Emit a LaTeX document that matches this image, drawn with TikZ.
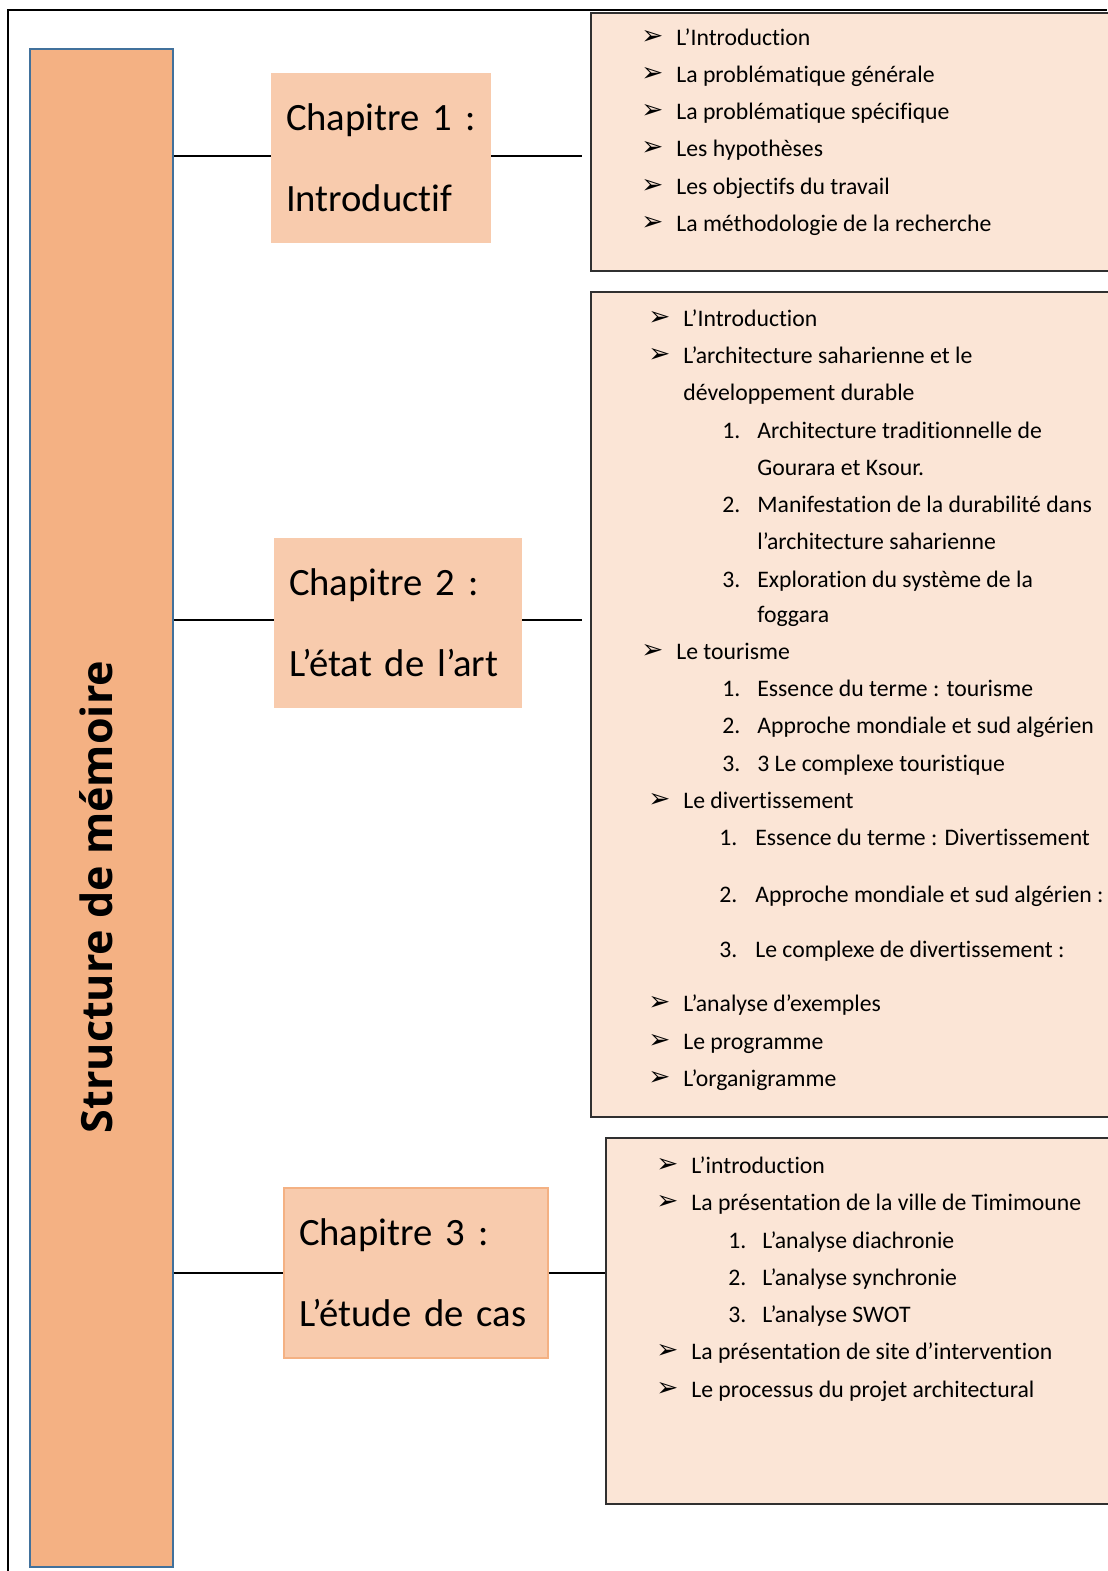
\documentclass[tikz,border=0pt]{standalone}
\usepackage{fontspec}
\setmainfont{Carlito}[Ligatures=NoCommon]
\newfontfamily\arrowfont{DejaVu Sans}
\newfontfamily\titlefont{Open Sans}
\definecolor{barfill}{HTML}{F4B183}
\definecolor{barline}{HTML}{41719C}
\definecolor{chapfill}{HTML}{F8CBAD}
\definecolor{listfill}{HTML}{FBE5D6}
\definecolor{listline}{HTML}{303030}
\begin{document}
\begin{tikzpicture}[x=0.02cm,y=-0.02cm,
  chap/.style={fill=chapfill,align=left,inner xsep=0.3cm,minimum height=3.4cm,
    font=\fontsize{22}{46}\selectfont},
  listbox/.style={draw=listline,fill=listfill,line width=1.1pt,anchor=north west},
  item/.style={anchor=mid west,inner sep=0pt,yshift=-0.08cm,font=\fontsize{13.5}{16}\selectfont},
  bul/.style={anchor=mid west,inner sep=0pt,yshift=-0.06cm,font=\arrowfont\bfseries\fontsize{15}{16}\selectfont},
  link/.style={draw,line width=0.9pt}]
\useasboundingbox (0,0) rectangle (1107,1571);
\draw[line width=0.6pt] (8,1571) -- (8,10) -- (1107,10);
% main bar
\node[draw=barline,fill=barfill,line width=0.8pt,minimum width=2.86cm,minimum height=30.36cm] (bar) at (101.5,808) {};
\node[rotate=90,font=\titlefont\bfseries\fontsize{24.5}{28}\selectfont] (title) at (96,897) {Structure de mémoire};
% chapters
\node[chap,text width=3.8cm] (ch1) at (381,158) {Chapitre 1 :\\Introductif};
\node[chap,text width=4.36cm] (ch2) at (398,623) {Chapitre 2 :\\L’état de l’art};
\node[chap,text width=4.68cm,draw=barfill,line width=0.8pt] (ch3) at (416,1273) {Chapitre 3 :\\L’étude de cas};
% content boxes
\node[listbox,minimum width=10.8cm,minimum height=5.16cm] (box1) at (590,12) {};
\node[listbox,minimum width=10.8cm,minimum height=16.5cm] (box2) at (590,291) {};
\node[listbox,minimum width=10.5cm,minimum height=7.32cm] (box3) at (605,1137) {};
\coordinate (e1) at (582,156);
\coordinate (e2) at (582,620);
\path[link] (bar.east |- e1) -- (ch1.west |- e1);
\path[link] (ch1.east |- e1) -- (e1);
\path[link] (bar.east |- e2) -- (ch2.west |- e2);
\path[link] (ch2.east |- e2) -- (e2);
\path[link] (bar.east |- 0,1273) -- (ch3.west |- 0,1273);
\path[link] (ch3.east |- 0,1273) -- (box3.west |- 0,1273);
% chapitre 1
\foreach \i/\y/\txt in {1/37/L’Introduction, 2/74/La problématique générale,
    3/111/La problématique spécifique, 4/148/Les hypothèses,
    5/186/Les objectifs du travail, 6/223/La méthodologie de la recherche} {
  \node[bul] (a1-\i) at (641,\y) {➢};
  \node[item] (t1-\i) at (676,\y) {\txt};
}
% chapitre 2
\foreach \i/\y/\txt in {1/318/L’Introduction, 2/355/L’architecture saharienne et le,
    4/800/Le divertissement, 5/1003/L’analyse d’exemples,
    6/1041/Le programme, 7/1078/L’organigramme} {
  \node[bul] (a2-\i) at (648,\y) {➢};
  \node[item] (t2-\i) at (683,\y) {\txt};
}
\node[bul] (a2-3) at (641,651) {➢};
\node[item] (t2-3) at (676,651) {Le tourisme};
\node[item] (t2-2b) at (683,392) {développement durable};
\foreach \i/\y/\n/\txt in {1/430/1./Architecture traditionnelle de, 2/467//Gourara et Ksour.,
    3/504/2./Manifestation de la durabilité dans, 4/541//l’architecture saharienne,
    5/579/3./Exploration du système de la, 6/614//foggara,
    7/688/1./Essence du terme : tourisme, 8/725/2./Approche mondiale et sud algérien,
    9/763/3./3 Le complexe touristique} {
  \node[item] (n2-\i) at (722,\y) {\n};
  \node[item] (s2-\i) at (757,\y) {\txt};
}
\foreach \i/\y/\n/\txt in {10/837/1./Essence du terme : Divertissement,
    11/894/2./Approche mondiale et sud algérien :,
    12/949/3./Le complexe de divertissement :} {
  \node[item] (n2-\i) at (719,\y) {\n};
  \node[item] (s2-\i) at (755,\y) {\txt};
}
% chapitre 3
\foreach \i/\y/\txt in {1/1165/L’introduction, 2/1202/La présentation de la ville de Timimoune,
    3/1351/La présentation de site d’intervention, 4/1389/Le processus du projet architectural} {
  \node[bul] (a3-\i) at (656,\y) {➢};
  \node[item] (t3-\i) at (691,\y) {\txt};
}
\foreach \i/\y/\n/\txt in {1/1240/1./L’analyse diachronie, 2/1277/2./L’analyse synchronie,
    3/1314/3./L’analyse SWOT} {
  \node[item] (n3-\i) at (728,\y) {\n};
  \node[item] (s3-\i) at (762,\y) {\txt};
}
\end{tikzpicture}
\end{document}
